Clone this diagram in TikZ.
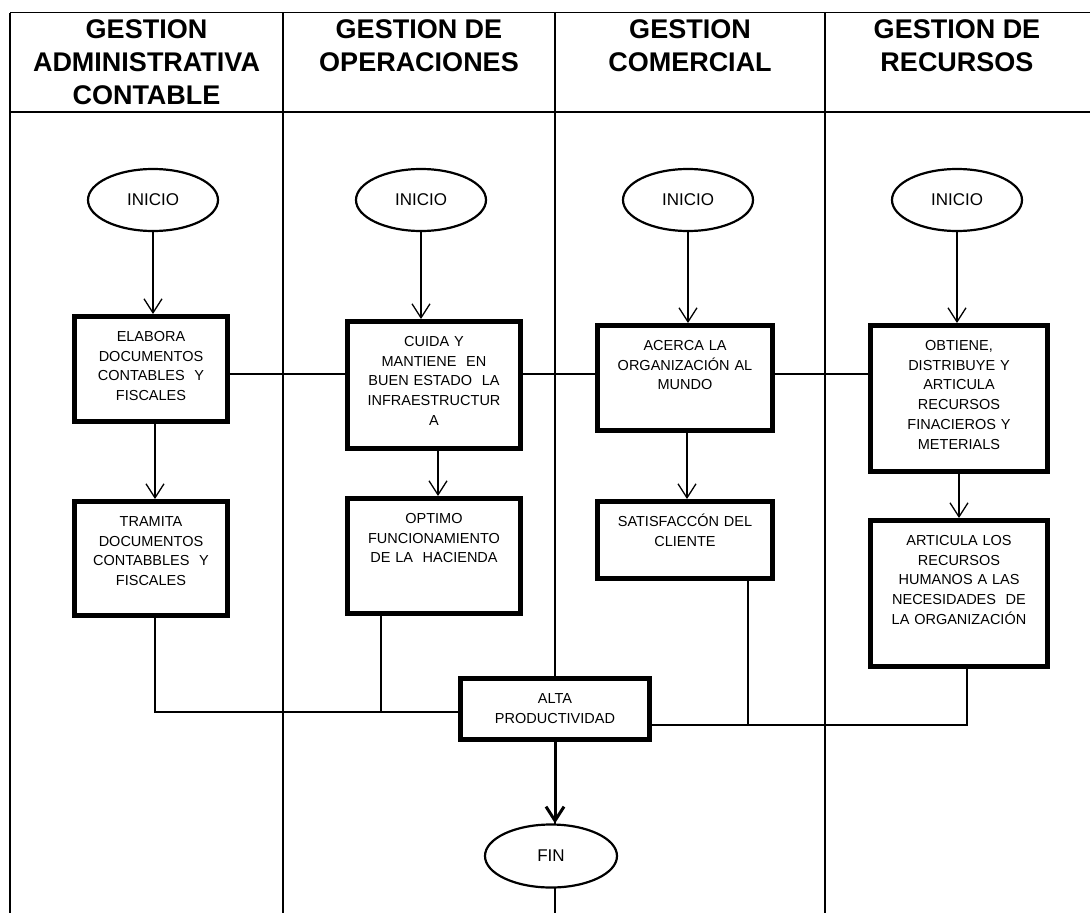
\documentclass[tikz,border=0pt]{standalone}
\usepackage{fontspec}
\setmainfont{Liberation Sans}
\usetikzlibrary{shapes.geometric, arrows.meta}

\begin{document}
\begin{tikzpicture}[x=1pt, y=-1pt,
    lane/.style={line width=1.5pt},
    title/.style={anchor=north, align=center, inner sep=0pt, font=\fontsize{27}{33}\selectfont\bfseries},
    terminal/.style={draw, ellipse, line width=2.2pt, fill=white, minimum width=130pt, minimum height=62pt, inner sep=0pt, font=\fontsize{17}{20}\selectfont},
    task/.style={draw, rectangle, line width=5pt, fill=white, anchor=north, align=center, inner sep=0pt, text height=25pt, font=\fontsize{14.5}{19.7}\selectfont},
    flow/.style={line width=1.3pt, -{Straight Barb[length=14pt,width=18pt]}},
    link/.style={line width=1.3pt}]
    \useasboundingbox (0,0) rectangle (1090,913);

    \draw[lane] (10,12.5) -- (1090,12.5);
    \draw[lane] (10,112) -- (1090,112);
    \foreach \x in {10,283,555,825}
        \draw[lane] (\x,12.5) -- (\x,913);

    \node[title] (t1) at (146.5,19) {GESTION\\ADMINISTRATIVA\\CONTABLE};
    \node[title] (t2) at (419,19) {GESTION DE\\OPERACIONES};
    \node[title] (t3) at (690,19) {GESTION\\COMERCIAL};
    \node[title] (t4) at (957,19) {GESTION DE\\RECURSOS};

    \node[terminal] (ini1) at (153,200) {INICIO};
    \node[terminal] (ini2) at (421,200) {INICIO};
    \node[terminal] (ini3) at (688,200) {INICIO};
    \node[terminal] (ini4) at (957,200) {INICIO};

    \node[task, text width=153pt, text depth=80pt] (elabora) at (151,314) {ELABORA\\DOCUMENTOS\\CONTABLES~~Y\\FISCALES};
    \node[task, text width=153pt, text depth=89pt] (tramita) at (151,499) {TRAMITA\\DOCUMENTOS\\CONTABBLES~~Y\\FISCALES};
    \node[task, text width=173pt, text depth=102pt] (cuida) at (434,319) {CUIDA Y\\MANTIENE~~EN\\BUEN ESTADO~~LA\\INFRAESTRUCTUR\\A};
    \node[task, text width=173pt, text depth=90pt] (optimo) at (434,496) {OPTIMO\\FUNCIONAMIENTO\\DE LA~~HACIENDA};
    \node[task, text width=175pt, text depth=80pt] (acerca) at (685,323) {ACERCA LA\\ORGANIZACIÓN AL\\MUNDO};
    \node[task, text width=175pt, text depth=52pt] (satisf) at (685,499) {SATISFACCÓN DEL\\CLIENTE};
    \node[task, text width=177pt, text depth=121pt] (obtiene) at (959,323) {OBTIENE,\\DISTRIBUYE Y\\ARTICULA\\RECURSOS\\FINACIEROS Y\\METERIALS};
    \node[task, text width=177pt, text depth=121pt] (articula) at (959,518) {ARTICULA LOS\\RECURSOS\\HUMANOS A LAS\\NECESIDADES~~DE\\LA ORGANIZACIÓN};
    \node[task, text width=189pt, text depth=36pt] (alta) at (555,676) {ALTA\\PRODUCTIVIDAD};

    \node[terminal, minimum width=132pt, minimum height=63pt] (fin) at (551,856) {FIN};

    \draw[flow] (ini1.south) -- (ini1.south |- elabora.north);
    \draw[flow] (ini2.south) -- (ini2.south |- cuida.north);
    \draw[flow] (ini3.south) -- (ini3.south |- acerca.north);
    \draw[flow] (ini4.south) -- (ini4.south |- obtiene.north);

    \draw[flow] ([xshift=4pt]elabora.south) -- ([xshift=4pt]tramita.north);
    \draw[flow] ([xshift=4pt]cuida.south) -- ([xshift=4pt]optimo.north);
    \draw[flow] ([xshift=2pt]acerca.south) -- ([xshift=2pt]satisf.north);
    \draw[flow] (obtiene.south) -- (articula.north);

    \coordinate (row) at (0,374);
    \draw[link] (elabora.east |- row) -- (cuida.west |- row);
    \draw[link] (cuida.east |- row) -- (acerca.west |- row);
    \draw[link] (acerca.east |- row) -- (obtiene.west |- row);

    \coordinate (ljoin) at ([yshift=-3pt]alta.west);
    \coordinate (rjoin) at ([yshift=-16pt]alta.east);
    \coordinate (optd) at ([xshift=-53pt]optimo.south);
    \coordinate (satd) at ([xshift=63pt]satisf.south);
    \coordinate (artd) at ([xshift=8pt]articula.south);
    \draw[link] ([xshift=4pt]tramita.south) |- (ljoin);
    \draw[link] (optd) -- (optd |- ljoin);
    \draw[link] (satd) -- (satd |- rjoin);
    \draw[link] (rjoin) -| (artd);

    \draw[flow, line width=3pt] (alta.south) -- (alta.south |- fin.north);
\end{tikzpicture}
\end{document}
